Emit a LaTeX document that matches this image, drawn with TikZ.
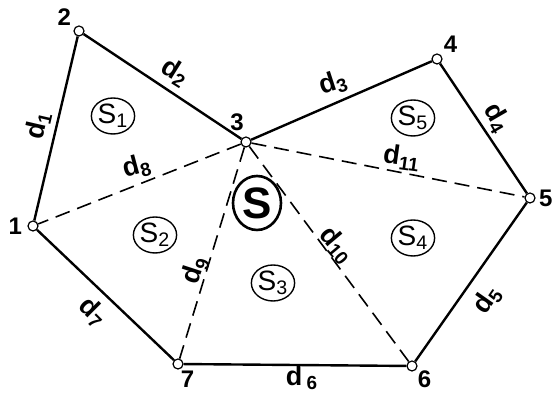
\documentclass[tikz,border=0pt]{standalone}
\usepackage{fontspec}
\setmainfont{Liberation Sans}
\usepackage{tikz}
\usetikzlibrary{shapes.geometric}

\begin{document}
\begin{tikzpicture}[
    x=0.5pt, y=-0.5pt,
    every node/.style={font=\bfseries\fontsize{12}{14}\selectfont},
    every label/.style={inner sep=0.5pt},
    vert/.style={circle, draw, line width=0.6pt, fill=white, inner sep=0pt, minimum size=5pt,
        path picture={\fill (path picture bounding box.center) circle (0.4pt);}},
    side/.style={line width=1.2pt},
    diag/.style={line width=0.8pt, dash pattern=on 7.5pt off 4pt},
    dlab/.style={inner sep=1pt, font=\bfseries\fontsize{13.5}{15}\selectfont},
    area/.style={ellipse, draw, line width=0.7pt, inner sep=0pt, minimum width=17pt, minimum height=18pt,
        font=\fontsize{14}{15}\selectfont},
    total/.style={ellipse, draw, line width=1.3pt, inner sep=0pt, minimum width=24pt, minimum height=27pt,
        font=\bfseries\fontsize{22}{24}\selectfont}
]
\useasboundingbox (0,0) rectangle (552,394);

% vertices
\node[vert, label={[label distance=2pt]left:1}] (p1) at (33,226) {};
\node[vert, label={[label distance=1pt]150:2}] (p2) at (79,31) {};
\node[vert, label={[label distance=2pt]95:3}] (p3) at (246,142) {};
\node[vert, label={[label distance=1pt]45:4}] (p4) at (437,59) {};
\node[vert, label={[label distance=1pt]right:5}] (p5) at (530,198) {};
\node[vert, label={[label distance=0pt]-35:6}] (p6) at (412,366) {};
\node[vert, label={[label distance=0pt]-75:7}] (p7) at (178,364) {};

% boundary
\draw[side] (p1) -- (p2) -- (p3) -- (p4) -- (p5) -- (p6) -- (p7) -- (p1);

% diagonals
\draw[diag] (p3) -- (p1);
\draw[diag] (p3) -- (p7);
\draw[diag] (p3) -- (p6);
\draw[diag] (p3) -- (p5);

% side labels
\node[dlab, rotate=77] (d1) at (38,125) {d\textsubscript{1}};
\node[dlab, rotate=-32] (d2) at (175,72) {d\textsubscript{2}};
\node[dlab, rotate=18] (d3) at (333,83) {d\textsubscript{3}};
\node[dlab, rotate=-60] (d4) at (497,118) {d\textsubscript{4}};
\node[dlab, rotate=55] (d5) at (487,300) {d\textsubscript{5}};
\node[dlab] (d6) at (302,378) {d\,\textsubscript{6}};
\node[dlab, rotate=-45] (d7) at (93,312) {d\textsubscript{7}};
\node[dlab, rotate=15] (d8) at (137,167) {d\textsubscript{8}};
\node[dlab, rotate=72] (d9) at (195,270) {d\textsubscript{9}};
\node[dlab, rotate=-50] (d10) at (337,245) {d\textsubscript{10}};
\node[dlab, rotate=-8] (d11) at (402,158) {d\textsubscript{11}};

% areas
\node[area] (s1) at (113,116) {S\textsubscript{1}};
\node[area] (s2) at (155,235) {S\textsubscript{2}};
\node[area] (s3) at (273,283) {S\textsubscript{3}};
\node[area] (s4) at (413,238) {S\textsubscript{4}};
\node[area] (s5) at (413,118) {S\textsubscript{5}};
\node[total] (s) at (257,203) {S};
\end{tikzpicture}
\end{document}
